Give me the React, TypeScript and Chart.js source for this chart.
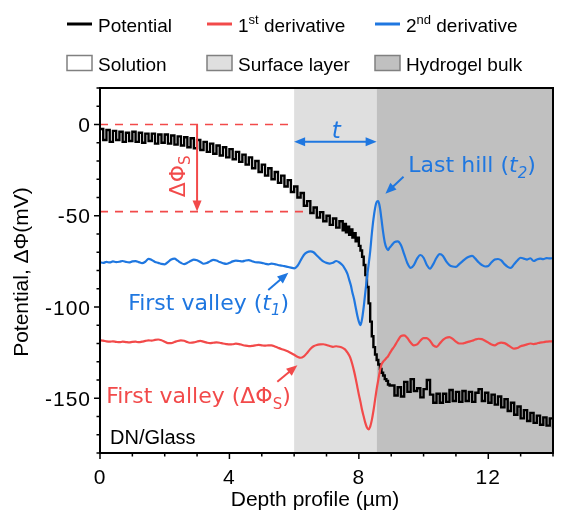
import React, { useEffect, useRef } from 'react';
import { Chart, registerables } from 'chart.js';
Chart.register(...registerables);

// ---- sample positions (µm): 0–7.5 step 0.1, 7.55–8.95 step 0.05, 9–14 step 0.1
const depthLeft = Array.from({ length: 76 }, (_, i) => +(i * 0.1).toFixed(2));
const depthMid = Array.from({ length: 29 }, (_, i) => +(7.55 + i * 0.05).toFixed(2));
const depthRight = Array.from({ length: 51 }, (_, i) => +(9 + i * 0.1).toFixed(2));
const depth = [...depthLeft, ...depthMid, ...depthRight];

// ---- Potential (mV)
const potential = [
  -2.5, -8.5, -3.0, -9.5, -3.5, -8.5, -4.0, -9.5, -4.5, -9.0,
  -4.0, -9.5, -4.5, -10.0, -5.0, -9.0, -5.0, -10.5, -5.5, -10.0,
  -5.5, -10.5, -6.0, -11.0, -6.5, -11.5, -7.0, -12.5, -7.5, -13.0,
  -8.5, -14.0, -9.5, -15.0, -10.5, -16.0, -11.5, -17.0, -12.5, -18.0,
  -13.5, -19.0, -15.0, -20.5, -16.5, -22.0, -18.0, -24.0, -20.0, -26.0,
  -22.0, -28.0, -24.0, -30.0, -26.0, -32.0, -28.0, -34.0, -30.5, -37.0,
  -34.0, -40.0, -37.5, -44.5, -42.0, -48.5, -45.5, -51.0, -48.0, -53.0,
  -50.0, -55.0, -51.5, -56.5, -53.0, -58.0,
  // 7.55 – 8.95
  -54.5, -59.0, -56.0, -60.5, -57.5, -62.0, -59.5, -64.0, -62.0, -66.5,
  -69.0, -72.5, -77.0, -82.5, -89.0, -98.0, -108.0, -116.0, -122.0, -126.0,
  -129.0, -131.5, -134.0, -136.0, -137.5, -139.5, -140.5, -142.5, -143.0,
  // 9.0 – 14.0
  -143.0, -148.5, -144.0, -149.0, -141.0, -146.5, -139.5, -146.0, -144.5, -149.5,
  -145.0, -140.0, -148.0, -152.5, -147.5, -152.5, -147.5, -152.0, -145.5, -151.5,
  -146.5, -152.0, -146.0, -151.5, -146.5, -152.0, -147.0, -145.0, -151.5, -147.0,
  -152.5, -148.0, -153.5, -149.0, -155.0, -150.5, -157.0, -152.5, -159.0, -154.5,
  -161.0, -156.5, -162.5, -158.0, -163.5, -159.5, -164.5, -160.5, -165.0, -161.0,
  -166.5,
];

// ---- 1st derivative (offset, mV scale)
const firstDerivative = [
  -118.2, -118.4, -118.8, -119.0, -118.8, -119.1, -119.3, -119.0, -119.2, -119.4,
  -119.1, -119.0, -119.3, -119.0, -118.6, -118.3, -118.4, -118.0, -117.8, -118.2,
  -119.0, -119.8, -119.8, -119.2, -118.6, -118.3, -118.5, -119.2, -119.6, -119.4,
  -118.9, -118.6, -119.0, -119.5, -119.8, -119.6, -119.4, -119.6, -120.0, -120.3,
  -120.5, -120.4, -120.1, -120.3, -120.8, -121.2, -121.4, -121.3, -121.0, -120.8,
  -121.0, -121.2, -121.0, -121.0, -121.6, -122.3, -123.0, -123.6, -124.3, -125.2,
  -126.2, -127.2, -127.8, -127.0, -125.2, -123.0, -121.5, -120.8, -120.5, -120.4,
  -120.8, -121.4, -121.8, -121.5, -121.8, -122.4,
  // 7.55 – 8.95
  -123.0, -123.8, -125.0, -126.5, -128.5, -131.5, -135.0, -139.0, -143.5, -148.0,
  -152.0, -156.5, -160.0, -163.5, -166.0, -167.0, -165.5, -162.0, -157.0, -151.0,
  -145.0, -140.0, -135.0, -131.5, -130.0, -129.0, -128.0, -127.0, -125.5,
  // 9.0 – 14.0
  -124.0, -121.5, -118.5, -116.0, -115.5, -117.0, -119.5, -121.0, -120.5, -118.5,
  -117.0, -117.0, -118.5, -121.0, -121.8, -120.0, -118.0, -116.8, -116.5, -117.5,
  -119.0, -120.0, -120.0, -119.5, -119.0, -118.5, -117.8, -117.4, -117.6, -118.5,
  -119.5, -120.5, -121.0, -120.0, -119.5, -119.8, -120.8, -122.0, -122.8, -122.5,
  -121.5, -121.0, -120.5, -120.0, -120.3, -120.0, -119.5, -119.3, -119.0, -118.8,
  -118.8,
];

// ---- 2nd derivative (offset, mV scale)
const secondDerivative = [
  -75.5, -75.8, -75.3, -75.6, -75.0, -75.4, -75.2, -74.8, -75.3, -75.6,
  -75.0, -74.9, -75.4, -76.0, -75.2, -73.6, -74.2, -75.3, -75.8, -76.4,
  -76.6, -75.4, -74.0, -73.5, -74.6, -75.8, -76.5, -75.8, -74.8, -74.0,
  -74.4, -75.3, -76.3, -75.9, -75.0, -74.2, -74.5, -75.4, -76.0, -76.4,
  -75.8, -75.0, -74.6, -74.8, -75.0, -74.5, -74.3, -74.9, -75.5, -75.6,
  -75.8, -76.3, -76.6, -76.2, -76.5, -77.0, -77.3, -77.6, -78.0, -78.4,
  -78.8, -77.5, -74.5, -71.5, -70.0, -69.5, -70.0, -71.8, -73.5, -75.0,
  -75.8, -76.2, -75.8, -74.8, -75.6, -77.2,
  // 7.55 – 8.95
  -78.5, -80.0, -82.0, -85.0, -88.0, -92.0, -95.5, -100.0, -104.5, -108.0,
  -110.0, -106.5, -100.0, -92.0, -84.0, -77.0, -69.5, -60.0, -52.0, -46.0,
  -42.5, -42.0, -45.5, -52.0, -59.0, -64.5, -67.5, -68.8, -67.5,
  // 9.0 – 14.0
  -66.5, -64.5, -64.0, -66.0, -71.0, -76.0, -78.6, -77.0, -73.5, -71.5,
  -73.0, -77.0, -79.0, -76.5, -73.0, -71.0, -72.0, -75.0, -77.0, -77.8,
  -78.0, -76.5, -75.0, -73.5, -72.5, -72.0, -73.5, -75.5, -77.0, -77.8,
  -77.5, -75.5, -74.0, -73.7, -74.5, -76.5, -78.0, -78.6, -76.5, -74.5,
  -73.0, -73.5, -74.0, -73.3, -74.8, -74.0, -73.5, -73.8, -73.2, -73.4,
  -73.2,
];

// ---- layers (µm boundaries) and ticks
const layerNames = ['Solution', 'Surface layer', 'Hydrogel bulk'];
const layerEdges = [0, 6, 8.55, 14];
const xTickLabels = [0, 4, 8, 12];
const yTickLabels = [0, -50, -100, -150];
const surfacePotentialDrop = -47.7;

const RED = '#f24a4a';
const BLUE = '#1f77e0';
const LAYER_COLORS = ['#ffffff', '#dfdfdf', '#c0c0c0'];
const SANS = '"Liberation Sans", Arial, sans-serif';
const ANN = '"DejaVu Sans", Verdana, sans-serif';

type Part = { t: string; it?: boolean; sub?: boolean; sup?: boolean };

function partFont(p: Part, size: number, family: string) {
  const s = p.sub || p.sup ? Math.round(size * 0.68) : size;
  return `${p.it ? 'italic ' : ''}${s}px ${family}`;
}
function richWidth(ctx: CanvasRenderingContext2D, parts: Part[], size: number, family: string) {
  let w = 0;
  for (const p of parts) {
    ctx.font = partFont(p, size, family);
    w += ctx.measureText(p.t).width;
  }
  return w;
}
function drawRich(ctx: CanvasRenderingContext2D, parts: Part[], x: number, y: number, size: number, family: string) {
  let cx = x;
  for (const p of parts) {
    ctx.font = partFont(p, size, family);
    const dy = p.sub ? size * 0.25 : p.sup ? -size * 0.38 : 0;
    ctx.fillText(p.t, cx, y + dy);
    cx += ctx.measureText(p.t).width;
  }
}
function arrowHead(ctx: CanvasRenderingContext2D, x1: number, y1: number, x2: number, y2: number, len = 11, half = 4.5) {
  const a = Math.atan2(y2 - y1, x2 - x1);
  ctx.beginPath();
  ctx.moveTo(x2, y2);
  ctx.lineTo(x2 - len * Math.cos(a) + half * Math.sin(a), y2 - len * Math.sin(a) - half * Math.cos(a));
  ctx.lineTo(x2 - len * Math.cos(a) - half * Math.sin(a), y2 - len * Math.sin(a) + half * Math.cos(a));
  ctx.closePath();
  ctx.fill();
}
function arrow(ctx: CanvasRenderingContext2D, x1: number, y1: number, x2: number, y2: number, color: string, both = false) {
  ctx.save();
  ctx.strokeStyle = color;
  ctx.fillStyle = color;
  ctx.lineWidth = 2;
  const a = Math.atan2(y2 - y1, x2 - x1);
  const inset = 8;
  ctx.beginPath();
  ctx.moveTo(both ? x1 + inset * Math.cos(a) : x1, both ? y1 + inset * Math.sin(a) : y1);
  ctx.lineTo(x2 - inset * Math.cos(a), y2 - inset * Math.sin(a));
  ctx.stroke();
  arrowHead(ctx, x1, y1, x2, y2);
  if (both) arrowHead(ctx, x2, y2, x1, y1);
  ctx.restore();
}

const decorPlugin = {
  id: 'decor',
  beforeDatasetsDraw(chart: any) {
    const { ctx, chartArea: a, scales } = chart;
    const X = (v: number) => scales.x.getPixelForValue(v);
    ctx.save();
    for (let i = 0; i < 3; i++) {
      ctx.fillStyle = LAYER_COLORS[i];
      ctx.fillRect(X(layerEdges[i]), a.top, X(layerEdges[i + 1]) - X(layerEdges[i]), a.bottom - a.top);
    }
    ctx.restore();
  },
  afterDatasetsDraw(chart: any) {
    const { ctx, scales } = chart;
    const X = (v: number) => scales.x.getPixelForValue(v);
    const Y = (v: number) => scales.y.getPixelForValue(v);
    ctx.save();
    // dashed reference lines
    ctx.strokeStyle = RED;
    ctx.lineWidth = 1.7;
    ctx.setLineDash([8, 7]);
    ctx.beginPath();
    ctx.moveTo(X(0), Y(0));
    ctx.lineTo(X(6), Y(0));
    ctx.moveTo(X(0), Y(surfacePotentialDrop));
    ctx.lineTo(X(6.45), Y(surfacePotentialDrop));
    ctx.stroke();
    ctx.setLineDash([]);
    // ΔΦs arrow
    arrow(ctx, X(3), Y(0), X(3), Y(surfacePotentialDrop), RED);
    // rotated ΔΦs
    ctx.fillStyle = RED;
    ctx.textBaseline = 'alphabetic';
    const dphi: Part[] = [{ t: 'ΔΦ' }, { t: 'S', sub: true }];
    ctx.save();
    ctx.translate(X(2.4) + 7, Y(-28.4));
    ctx.rotate(-Math.PI / 2);
    const w1 = richWidth(ctx, dphi, 22, ANN);
    drawRich(ctx, dphi, -w1 / 2, 0, 22, ANN);
    ctx.restore();
    // t double arrow
    arrow(ctx, X(6.0), Y(-9.5), X(8.55), Y(-9.5), BLUE, true);
    ctx.fillStyle = BLUE;
    ctx.font = `italic 23px ${ANN}`;
    ctx.textAlign = 'center';
    ctx.fillText('t', X(7.3), Y(-2.75) + 8);
    ctx.textAlign = 'left';
    // Last hill
    drawRich(ctx, [{ t: 'Last hill (' }, { t: 't', it: true }, { t: '2', it: true, sub: true }, { t: ')' }], X(9.53), Y(-22) + 7.5, 22, ANN);
    arrow(ctx, X(9.38), Y(-28.6), X(8.82), Y(-37.9), BLUE);
    // First valley t1
    drawRich(ctx, [{ t: 'First valley (' }, { t: 't', it: true }, { t: '1', it: true, sub: true }, { t: ')' }], X(0.87), Y(-97.3) + 7.5, 22, ANN);
    arrow(ctx, X(5.2), Y(-90.7), X(5.82), Y(-81.3), BLUE);
    // First valley ΔΦs
    ctx.fillStyle = RED;
    drawRich(ctx, [{ t: 'First valley (ΔΦ' }, { t: 'S', sub: true }, { t: ')' }], X(0.19), Y(-148.5) + 7.5, 22, ANN);
    arrow(ctx, X(5.48), Y(-141), X(6.1), Y(-131.9), RED);
    // DN/Glass
    ctx.fillStyle = '#000';
    ctx.font = `20px ${SANS}`;
    ctx.fillText('DN/Glass', X(0.31), Y(-175.3));
    ctx.restore();
  },
  afterDraw(chart: any) {
    const { ctx, chartArea: a, scales } = chart;
    const X = (v: number) => scales.x.getPixelForValue(v);
    const Y = (v: number) => scales.y.getPixelForValue(v);
    ctx.save();
    // frame
    ctx.strokeStyle = '#000';
    ctx.lineWidth = 2;
    ctx.strokeRect(a.left, a.top, a.right - a.left, a.bottom - a.top);
    // ticks
    ctx.lineWidth = 1.5;
    ctx.beginPath();
    for (let v = 0; v <= 14; v += 1) {
      const major = xTickLabels.includes(v);
      const x = X(v);
      ctx.moveTo(x, a.bottom);
      ctx.lineTo(x, a.bottom + (major ? 6 : 3.5));
    }
    for (let v = -180; v <= 20; v += 10) {
      const major = yTickLabels.includes(v);
      const y = Y(v);
      ctx.moveTo(a.left, y);
      ctx.lineTo(a.left - (major ? 6 : 3.5), y);
    }
    ctx.stroke();
    // tick labels
    ctx.fillStyle = '#000';
    ctx.font = `21px ${SANS}`;
    (ctx as any).letterSpacing = '1px';
    ctx.textBaseline = 'alphabetic';
    ctx.textAlign = 'center';
    for (const v of xTickLabels) ctx.fillText(String(v), X(v), 484);
    ctx.textAlign = 'right';
    for (const v of yTickLabels) ctx.fillText(String(v), 91, Y(v) + 7.5);
    (ctx as any).letterSpacing = '0px';
    // axis titles
    ctx.font = `21px ${SANS}`;
    ctx.textAlign = 'center';
    ctx.fillText('Depth profile (µm)', 315, 506);
    ctx.save();
    ctx.translate(28, 272);
    ctx.rotate(-Math.PI / 2);
    ctx.fillText('Potential, ΔΦ(mV)', 0, 0);
    ctx.restore();
    // legend
    ctx.textAlign = 'left';
    const lx = [67, 207, 375];
    const lineColors = ['#000', RED, BLUE];
    const lineLabels: Part[][] = [
      [{ t: 'Potential' }],
      [{ t: '1' }, { t: 'st', sup: true }, { t: ' derivative' }],
      [{ t: '2' }, { t: 'nd', sup: true }, { t: ' derivative' }],
    ];
    for (let i = 0; i < 3; i++) {
      ctx.strokeStyle = lineColors[i];
      ctx.lineWidth = 3;
      ctx.beginPath();
      ctx.moveTo(lx[i], 24);
      ctx.lineTo(lx[i] + 25, 24);
      ctx.stroke();
      ctx.fillStyle = '#000';
      drawRich(ctx, lineLabels[i], lx[i] + 31, 31.5, 19, SANS);
      ctx.fillStyle = LAYER_COLORS[i];
      ctx.fillRect(lx[i], 55.5, 25, 15);
      ctx.strokeStyle = '#808080';
      ctx.lineWidth = 1.5;
      ctx.strokeRect(lx[i], 55.5, 25, 15);
      ctx.fillStyle = '#000';
      ctx.font = `19px ${SANS}`;
      ctx.fillText(layerNames[i], lx[i] + 31, 70.5);
    }
    ctx.restore();
  },
};

export default function App() {
  const ref = useRef<HTMLCanvasElement>(null);
  useEffect(() => {
    const pts = (vals: number[]) => vals.map((v, i) => ({ x: depth[i], y: v }));
    const chart = new Chart(ref.current!, {
      type: 'line',
      data: {
        datasets: [
          {
            label: '2nd derivative',
            data: pts(secondDerivative),
            borderColor: BLUE,
            borderWidth: 2.2,
            pointRadius: 0,
            cubicInterpolationMode: 'monotone',
          },
          {
            label: '1st derivative',
            data: pts(firstDerivative),
            borderColor: RED,
            borderWidth: 2.2,
            pointRadius: 0,
            cubicInterpolationMode: 'monotone',
          },
          {
            label: 'Potential',
            data: pts(potential),
            borderColor: '#000',
            borderWidth: 2.4,
            pointRadius: 0,
            stepped: true,
          },
        ],
      },
      options: {
        animation: false,
        responsive: false,
        devicePixelRatio: 1,
        layout: { padding: { left: 100, right: 8, top: 88, bottom: 61 } },
        plugins: { legend: { display: false }, tooltip: { enabled: false } },
        scales: {
          x: { type: 'linear', min: 0, max: 14, display: false },
          y: { type: 'linear', min: -180, max: 20, display: false },
        },
      } as any,
      plugins: [decorPlugin],
    });
    return () => chart.destroy();
  }, []);
  return (
    <div style={{ position: 'fixed', left: 0, top: 0, width: 561, height: 514, background: '#fff' }}>
      <canvas ref={ref} width={561} height={514} style={{ display: 'block' }} />
    </div>
  );
}
